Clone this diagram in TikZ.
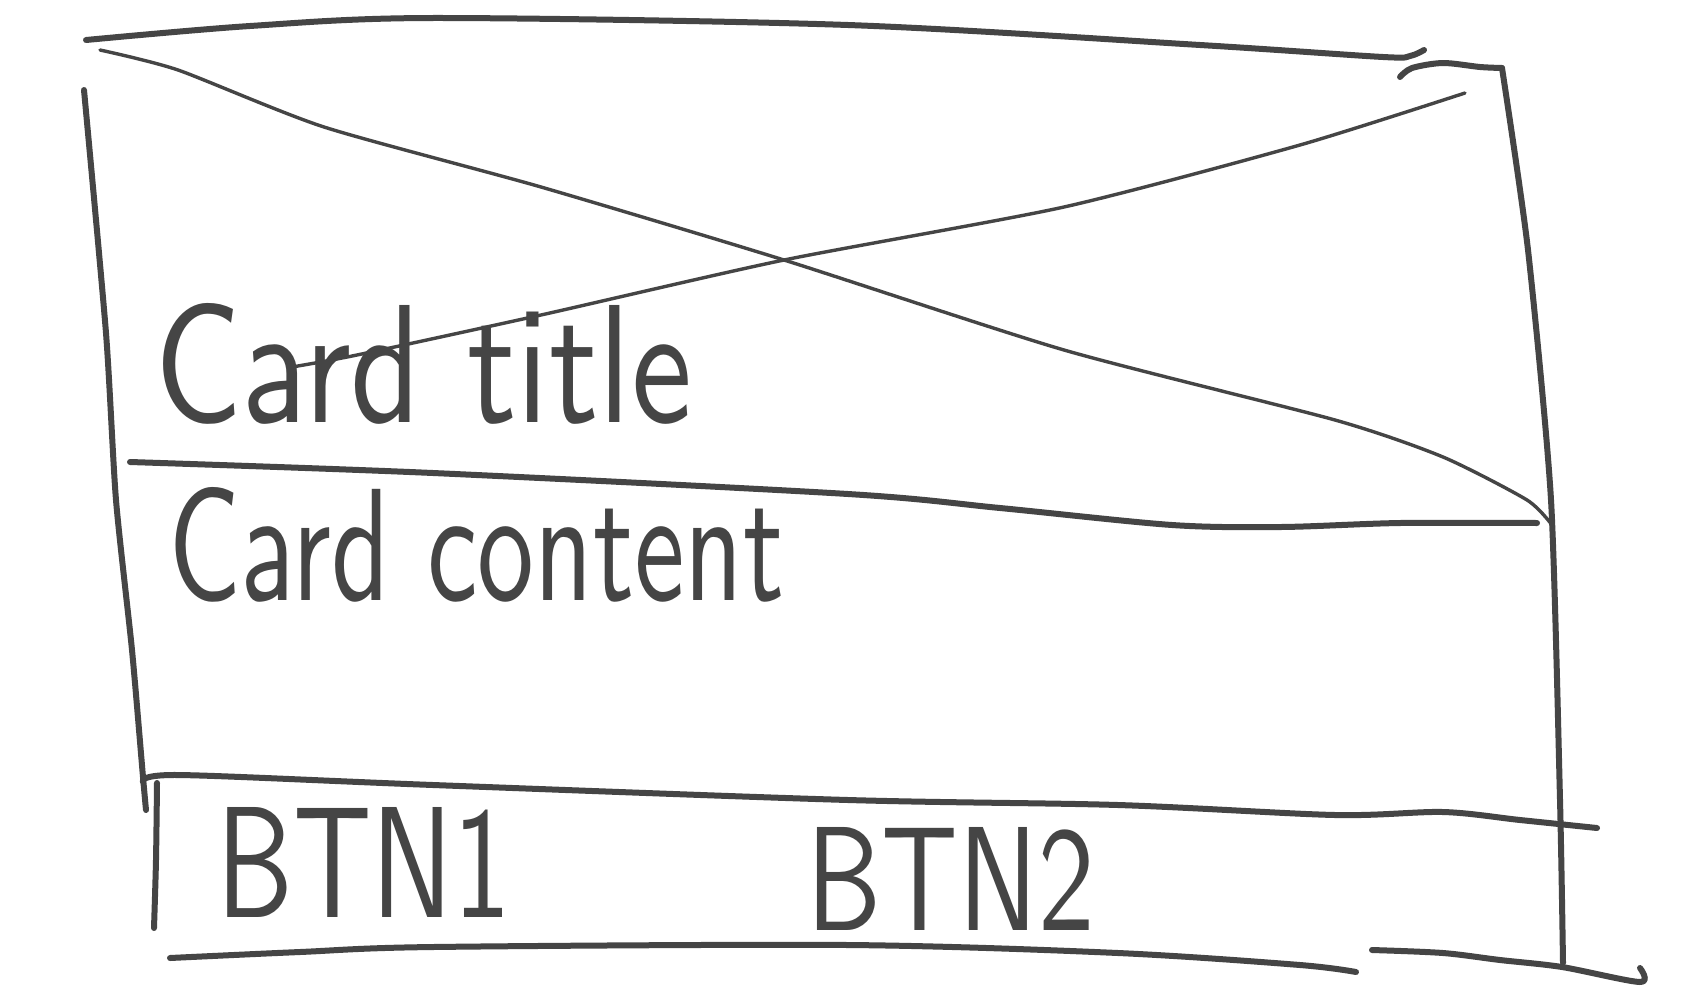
\documentclass[tikz,border=0pt]{standalone}
\usepackage{fontspec}
\usepackage{graphicx}
\definecolor{pen}{HTML}{454545}
\tikzset{
  heavy/.style={draw=pen, line width=6pt, line cap=round, line join=round},
  thin/.style={draw=pen, line width=3.4pt, line cap=round, line join=round},
  hand/.style={inner sep=0pt, text=pen, font=\sffamily, anchor=base west}
}
\begin{document}
\begin{tikzpicture}[x=1pt,y=-1pt]
\useasboundingbox[fill=white] (0,0) rectangle (1696,1001);
% texts
\node[hand] (title) at (154,422) {\resizebox{538pt}{119pt}{Card title}};
\node[hand] (content) at (168,600) {\resizebox{616pt}{113pt}{Card content}};
\node[hand] (btna) at (216,917) {\resizebox{295pt}{110pt}{BTN1}};
\node[hand] (btnb) at (806,930) {\resizebox{288pt}{103pt}{BTN2}};
% frame lines
\draw[heavy] plot[smooth, tension=0.5] coordinates {(86,40) (250,26) (433,18) (848,25) (1200,45) (1383,57) (1410,56) (1424,50)};
\draw[heavy] plot[smooth, tension=0.5] coordinates {(1400,77) (1412,68) (1443,63) (1480,67) (1502,68)};
\draw[heavy] plot[smooth, tension=0.4] coordinates {(1502,68) (1528,250) (1551,500) (1560,800) (1563,963)};
\draw[heavy] plot[smooth, tension=0.5] coordinates {(1372,950) (1443,953) (1500,960) (1562,967) (1640,982) (1640,968)};
\draw[heavy] plot[smooth, tension=0.5] coordinates {(170,958) (300,952) (433,947) (848,945) (1118,953) (1300,965) (1356,972)};
\draw[heavy] plot[smooth, tension=0.5] coordinates {(143,782) (178,775) (433,785) (848,800) (1118,805) (1335,815) (1443,812) (1520,820) (1597,828)};
\draw[heavy] plot[smooth, tension=0.4] coordinates {(84,90) (106,333) (116,500) (132,650) (143,777) (146,810)};
\draw[heavy] plot[smooth, tension=0.5] coordinates {(157,783) (156,860) (154,928)};
\draw[heavy] plot[smooth, tension=0.5] coordinates {(130,462) (433,473) (848,494) (1000,508) (1172,525) (1281,527) (1400,523) (1537,523)};
% cross
\draw[thin] plot[smooth, tension=0.4] coordinates {(100,50) (178,70) (324,127) (541,187) (784,260) (1064,350) (1335,420) (1443,457) (1527,500) (1552,525)};
\draw[thin] plot[smooth, tension=0.4] coordinates {(1465,93) (1300,145) (1064,207) (784,260) (541,315) (357,355) (292,367)};
\end{tikzpicture}
\end{document}
